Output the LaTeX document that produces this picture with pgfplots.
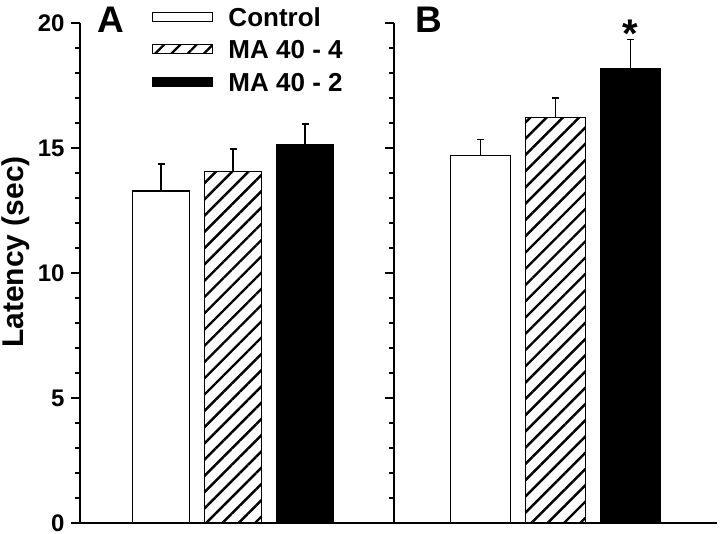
\documentclass[border=0pt]{standalone}
\usepackage{pgfplots}
\pgfplotsset{compat=1.18}
\usetikzlibrary{patterns.meta}
\usepackage{fontspec}
\setmainfont{Liberation Sans}

\pgfplotsset{
  panel/.style={
    scale only axis, anchor=south west, height=500pt,
    ymin=0, ymax=20,
    axis x line=bottom, axis y line=left,
    axis line style={-, line width=1.3pt},
    xtick=\empty, ytick={0,5,10,15,20}, minor y tick num=4,
    tick align=outside, major tick length=9pt, minor tick length=5pt,
    every tick/.style={line width=1.2pt, black},
    yticklabel style={font=\bfseries\fontsize{24}{24}\selectfont, xshift=-3pt, inner ysep=0pt},
    /pgf/number format/assume math mode=true,
    ybar, bar width=0.8, clip=false,
  },
  myerr/.style={
    error bars/y dir=plus, error bars/y explicit,
    error bars/error mark=-,
    error bars/error bar style={line width=1.3pt, black, solid},
    error bars/error mark options={rotate=90, line width=1.3pt, mark size=3.5pt, black},
  },
  ctrl/.style={bar shift=0pt, draw=black, line width=1.3pt, fill=white, myerr},
  hatch/.style={bar shift=0pt, draw=black, line width=1.3pt,
    pattern={Lines[angle=45, distance=11.5pt, line width=2.4pt]}, pattern color=black, myerr},
  solid/.style={bar shift=0pt, draw=black, line width=1.3pt, fill=black, myerr},
}

\begin{document}
\begin{tikzpicture}
\path[use as bounding box] (0,0) rectangle (720pt,534pt);

% Panel A
\begin{axis}[panel,
  at={(80pt,11pt)}, width=314pt,
  xmin=-1.125, xmax=3.236,
  ylabel={Latency (sec)},
  ylabel style={font=\bfseries\fontsize{30}{30}\selectfont, at={(axis description cs:-0.204,0.542)}, anchor=center, inner sep=0pt},
  legend cell align=left,
  legend image code/.code={\draw[#1] (0pt,-4.5pt) rectangle (60pt,4.5pt);},
  legend style={at={(rel axis cs:0.2293,1.032)}, anchor=north west, draw=none, fill=none,
    inner sep=0pt, row sep=13.5pt,
    font=\bfseries\fontsize{26}{26}\selectfont,
    nodes={inner sep=0pt, text height=19pt, text depth=0pt},
    /tikz/every odd column/.style={column sep=15pt}},
]
\addplot[ctrl] coordinates {(0,13.28) +- (0,1.08)};
\addplot[hatch] coordinates {(1,14.05) +- (0,0.91)};
\addplot[solid] coordinates {(2,15.13) +- (0,0.83)};
\legend{Control, MA 40 - 4, MA 40 - 2}
\draw[line width=1.3pt] (rel axis cs:0,0) -- ++(-11pt,0);
\end{axis}

% Panel B
\begin{axis}[panel,
  at={(394pt,11pt)}, width=323pt,
  xmin=-1.153, xmax=3.153,
  yticklabels=\empty,
]
\addplot[ctrl] coordinates {(0,14.69) +- (0,0.66)};
\addplot[hatch] coordinates {(1,16.23) +- (0,0.77)};
\addplot[solid] coordinates {(2,18.16) +- (0,1.17)};
\node[anchor=base, font=\bfseries\fontsize{40}{40}\selectfont] at (axis cs:2,19.0) {*};
\end{axis}

\node[anchor=base west, font=\bfseries\fontsize{37}{37}\selectfont, inner sep=0pt] at (97pt,501pt) {A};
\node[anchor=base west, font=\bfseries\fontsize{37}{37}\selectfont, inner sep=0pt] at (415pt,501pt) {B};
\end{tikzpicture}
\end{document}
